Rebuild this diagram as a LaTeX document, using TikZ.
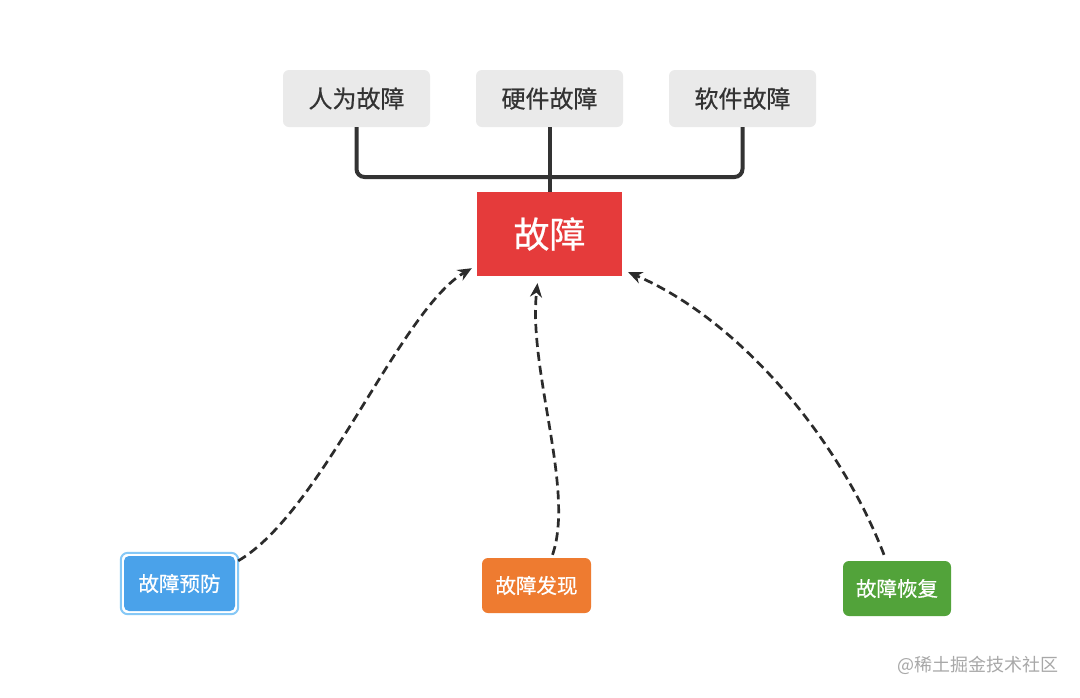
\documentclass[tikz,border=0pt]{standalone}
\usepackage{fontspec}
\newfontfamily\cjk{Noto Sans CJK SC}[FakeBold=0.6]
\newfontfamily\cjkwm{Noto Sans CJK SC}
\usetikzlibrary{arrows.meta,calc}
\definecolor{boxgray}{HTML}{EAEAEA}
\definecolor{txtdark}{HTML}{333333}
\definecolor{linedark}{HTML}{333333}
\definecolor{faultred}{HTML}{E53B3B}
\definecolor{prevblue}{HTML}{4AA2EA}
\definecolor{prevframe}{HTML}{86C8F6}
\definecolor{findorange}{HTML}{EE7B30}
\definecolor{recgreen}{HTML}{52A33A}
\definecolor{dashcol}{HTML}{2B2B2B}
\definecolor{wmgray}{HTML}{A8A8A8}
\begin{document}
\begin{tikzpicture}[x=1pt,y=-1pt,
  topbox/.style={fill=boxgray,rounded corners=6pt,minimum width=147pt,minimum height=57pt,inner sep=0pt,
    font=\cjk\fontsize{24}{28}\selectfont,text=txtdark},
  faultbox/.style={fill=faultred,minimum width=145pt,minimum height=84pt,inner sep=0pt,
    font=\cjk\fontsize{36}{40}\selectfont,text=white},
  smallbox/.style={rounded corners=6pt,inner sep=0pt,minimum height=55pt,
    font=\cjk\fontsize{20.5}{24}\selectfont,text=white},
  tree/.style={draw=linedark,line width=4pt,rounded corners=8pt},
  dasharrow/.style={draw=dashcol,line width=2.7pt,dash pattern=on 9pt off 5pt,
    -{Stealth[length=14pt,width=12pt]}}
]
\useasboundingbox (0,0) rectangle (1080,697);
\fill[white] (0,0) rectangle (1080,697);

% top boxes
\node[topbox] (human) at (356.5,98.5) {人为故障};
\node[topbox] (hard)  at (549.5,98.5) {硬件故障};
\node[topbox] (soft)  at (742.5,98.5) {软件故障};

% fault box
\node[faultbox] (fault) at (549.5,234) {故障};

% tree connector
\coordinate (bar) at (549.5,177);
\draw[tree] (human.south) -- (human.south |- bar) -- (soft.south |- bar) -- (soft.south);
\draw[draw=linedark,line width=4pt] (hard.south) -- (fault.north);

% bottom boxes
\node[smallbox,fill=prevblue,minimum width=111pt,rounded corners=5pt] (prev) at (179.5,583.5) {故障预防};
\draw[prevframe,line width=2pt,rounded corners=7pt] ($(prev.north west)+(-3,-3)$) rectangle ($(prev.south east)+(3,3)$);
\node[smallbox,fill=findorange,minimum width=109pt] (find) at (536.5,585.5) {故障发现};
\node[smallbox,fill=recgreen,minimum width=108pt] (rec) at (897,588.5) {故障恢复};

% dashed arrows
\draw[dasharrow] ($(prev.north east)+(3,5)$) .. controls (322,512) and (400,310) .. ($(fault.south west)+(-5,-8)$);
\draw[dasharrow] ($(find.north)+(16,-3)$) .. controls (575,490) and (528,370) .. ($(fault.south)+(-12,7)$);
\draw[dasharrow] ($(rec.north)+(-13,-6)$) .. controls (840,440) and (740,320) .. ($(fault.south east)+(6,-4)$);

% watermark
\node[font=\cjkwm\fontsize{18}{22}\selectfont,text=wmgray,inner sep=0pt] (wm) at (978,665) {@稀土掘金技术社区};
\end{tikzpicture}
\end{document}
